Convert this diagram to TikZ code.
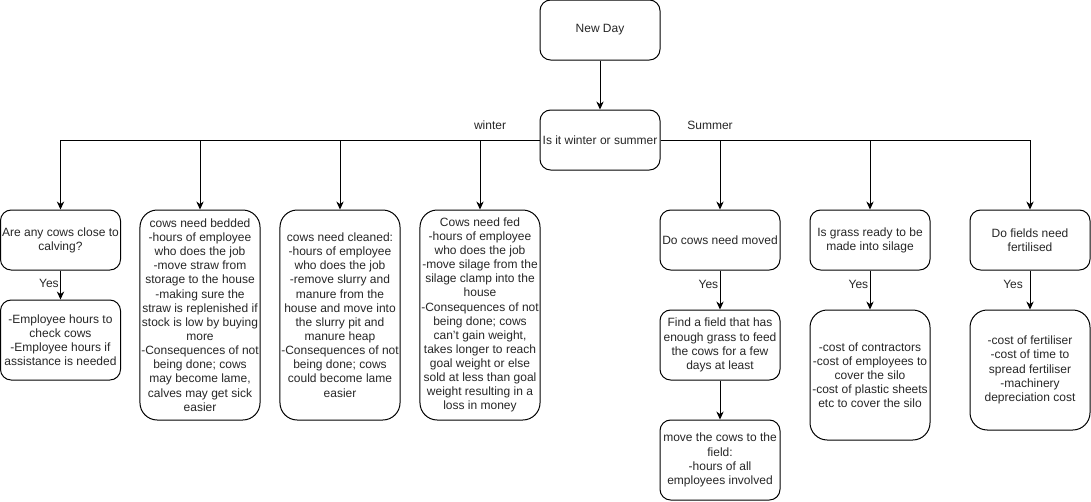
\documentclass[tikz,border=0pt]{standalone}
\usepackage{fontspec}
\setmainfont{Liberation Sans}
\usetikzlibrary{arrows.meta}
\tikzset{
  box/.style={draw, line width=0.75pt, rounded corners=8pt, minimum width=90pt, align=center, inner sep=1pt, font=\fontsize{9}{10.6}\selectfont, text=black!85},
  tall/.style={box, rounded corners=13pt},
  arr/.style={line width=0.75pt, -{Stealth[length=6pt,width=5.5pt]}},
  lbl/.style={font=\fontsize{9}{10.6}\selectfont, text=black!85, inner sep=1pt}
}
\begin{document}
\begin{tikzpicture}[x=0.75pt,y=-0.75pt]
\useasboundingbox (0,0) rectangle (1091,501);
\node[box, minimum height=45pt] (nd) at (600,30) {New Day};
\node[box, minimum height=45pt] (q) at (600,140) {Is it winter or summer};
\node[box, minimum height=45pt] (calv) at (60.5,240) {Are any cows close to\\calving?};
\node[box, minimum height=60pt] (calvc) at (60.5,340) {-Employee hours to\\check cows\\-Employee hours if\\assistance is needed};
\node[tall, minimum height=157.5pt] (bed) at (200,315) {cows need bedded\\-hours of employee\\who does the job\\-move straw from\\storage to the house\\-making sure the\\straw is replenished if\\stock is low by buying\\more\\-Consequences of not\\being done; cows\\may become lame,\\calves may get sick\\easier};
\node[tall, minimum height=157.5pt] (cln) at (340,315) {cows need cleaned:\\-hours of employee\\who does the job\\-remove slurry and\\manure from the\\house and move into\\the slurry pit and\\manure heap\\-Consequences of not\\being done; cows\\could become lame\\easier};
\node[tall, minimum height=157.5pt] (fed) at (480,315) {Cows need fed\\-hours of employee\\who does the job\\-move silage from the\\silage clamp into the\\house\\-Consequences of not\\being done; cows\\can\symbol{39}t gain weight,\\takes longer to reach\\goal weight or else\\sold at less than goal\\weight resulting in a\\loss in money};
\node[box, minimum height=45pt] (mov) at (720,240) {Do cows need moved};
\node[box, minimum height=52.5pt] (fld) at (720,345) {Find a field that has\\enough grass to feed\\the cows for a few\\days at least};
\node[box, minimum height=60pt] (mvc) at (720,460) {move the cows to the\\field:\\-hours of all\\employees involved};
\node[box, minimum height=45pt] (grs) at (870,240) {Is grass ready to be\\made into silage};
\node[tall, minimum height=97.5pt] (grsc) at (870,375) {-cost of contractors\\-cost of employees to\\cover the silo\\-cost of plastic sheets\\etc to cover the silo};
\node[box, minimum height=45pt] (fert) at (1030,240) {Do fields need\\fertilised};
\node[tall, minimum height=90pt] (fertc) at (1030,370) {-cost of fertiliser\\-cost of time to\\spread fertiliser\\-machinery\\depreciation cost};
\draw[arr] (nd) -- (q);
\draw[arr] (q.west) -| (calv.north);
\draw[arr] (q.west) -| (bed.north);
\draw[arr] (q.west) -| (cln.north);
\draw[arr] (q.west) -| (fed.north);
\draw[arr] (q.east) -| (mov.north);
\draw[arr] (q.east) -| (grs.north);
\draw[arr] (q.east) -| (fert.north);
\draw[arr] (calv) -- node[lbl, pos=0.45, left] {Yes} (calvc);
\draw[arr] (mov) -- node[lbl, pos=0.35, left] {Yes} (fld);
\draw[arr] (fld) -- (mvc);
\draw[arr] (grs) -- node[lbl, pos=0.35, left] {Yes} (grsc);
\draw[arr] (fert) -- node[lbl, pos=0.35, left, xshift=-4pt] {Yes} (fertc);
\node[lbl] (wl) at (490,125) {winter};
\node[lbl] (sl) at (710,125) {Summer};
\end{tikzpicture}
\end{document}
